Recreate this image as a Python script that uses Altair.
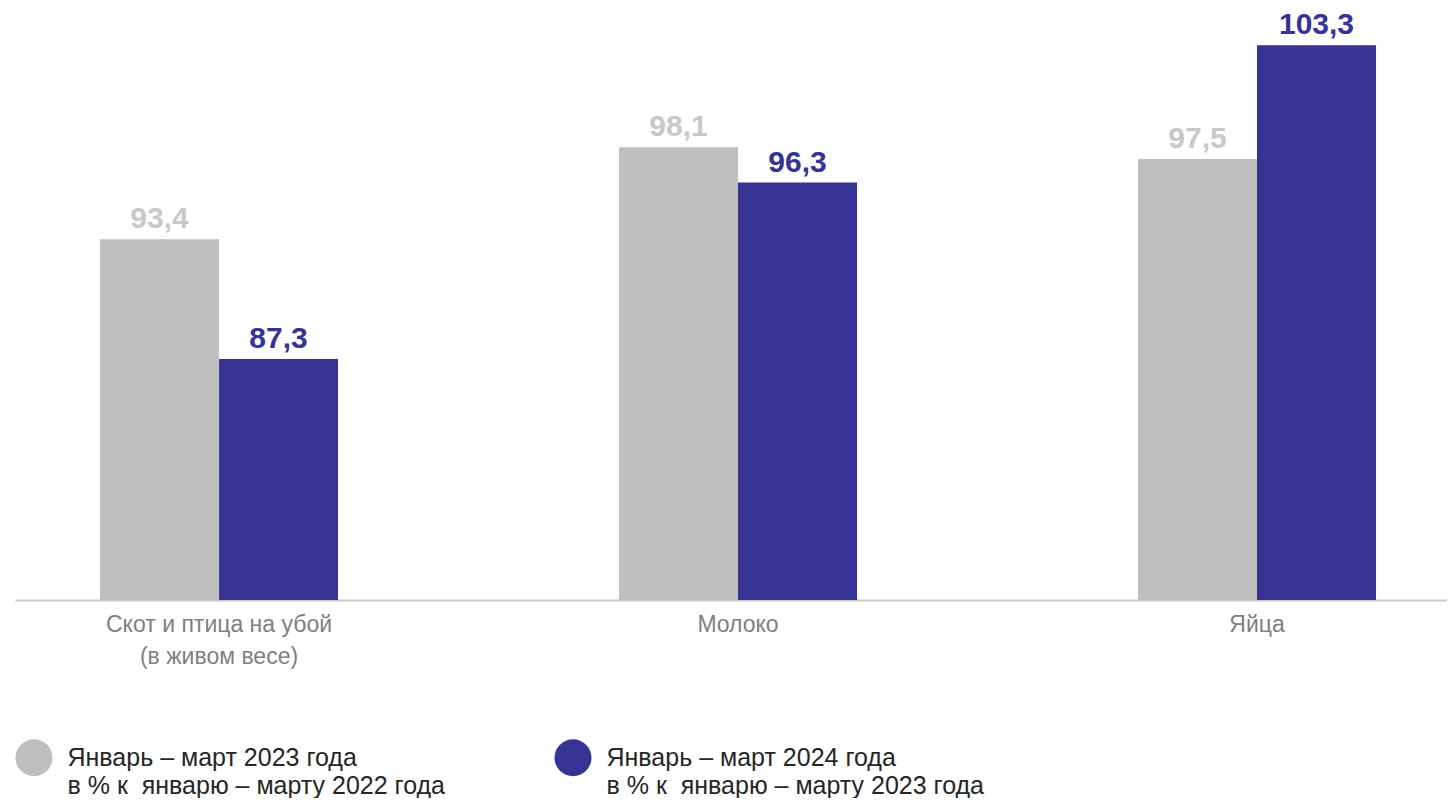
import altair as alt
import pandas as pd

categories = ["Скот и птица на убой\n (в живом весе)", "Молоко", "Яйца"]
series_names = [
    "Январь – март 2023 года\nв % к\u00a0 январю – марту 2022 года",
    "Январь – март 2024 года\nв % к\u00a0 январю – марту 2023 года",
]
values_2023 = [93.4, 98.1, 97.5]
values_2024 = [87.3, 96.3, 103.3]

bar_colors = ["#BFBFBF", "#363394"]
text_colors = ["#C8C8C8", "#363394"]

rows = []
for c, v1, v2 in zip(categories, values_2023, values_2024):
    rows.append({"cat": c, "series": series_names[0], "value": v1})
    rows.append({"cat": c, "series": series_names[1], "value": v2})
df = pd.DataFrame(rows)

FONT = "Liberation Sans"

x_enc = alt.X(
    "cat:N",
    sort=categories,
    scale=alt.Scale(paddingInner=0.5414, paddingOuter=0.1503, align=0.545),
    axis=alt.Axis(
        title=None,
        labelAngle=0,
        ticks=False,
        domainColor="#C8C8C8",
        domainWidth=2,
        labelColor="#808080",
        labelFont=FONT,
        labelFontSize=23,
        labelBaseline="top",
        labelPadding=13,
        labelLineHeight=32,
        labelLimit=500,
        labelExpr="split(datum.label, '\\n')",
        grid=False,
    ),
)
xoff = alt.XOffset("series:N", sort=series_names, scale=alt.Scale(paddingInner=0, paddingOuter=0))
y_enc = alt.Y(
    "value:Q",
    scale=alt.Scale(domain=[75, 105], zero=False, clamp=True, nice=False),
    axis=None,
)

bars = alt.Chart(df).mark_bar().encode(
    x=x_enc,
    xOffset=xoff,
    y=y_enc,
    color=alt.Color(
        "series:N",
        sort=series_names,
        scale=alt.Scale(domain=series_names, range=bar_colors),
        legend=alt.Legend(
            title=None,
            orient="none",
            legendX=0.5,
            legendY=727,
            direction="horizontal",
            symbolType="circle",
            symbolSize=1369,
            symbolStrokeWidth=0,
            labelFont=FONT,
            labelFontSize=25,
            labelColor="#262626",
            labelOffset=15,
            labelLimit=600,
            columnPadding=109,
            padding=0,
            labelExpr="split(datum.label, '\\n')",
        ),
    ),
)

texts = alt.Chart(df).transform_calculate(
    label="replace(format(datum.value, '.1f'), '.', ',')"
).mark_text(
    font=FONT, fontSize=30, fontWeight="bold", baseline="alphabetic", dy=-11
).encode(
    x=alt.X("cat:N", sort=categories),
    xOffset=xoff,
    y=y_enc,
    text="label:N",
    color=alt.Color(
        "series:N",
        sort=series_names,
        scale=alt.Scale(domain=series_names, range=text_colors),
        legend=None,
    ),
)

chart = (
    alt.layer(bars, texts)
    .resolve_scale(color="independent")
    .properties(
        width=1432,
        height=588,
        padding={"left": 7, "top": 4, "right": 0, "bottom": 198},
        autosize=alt.AutoSizeParams(type="none"),
    )
    .configure(style={"guide-label": {"lineHeight": 28}})
    .configure_view(stroke=None)
)

chart.save("out.html", embed_options={"renderer": "svg", "actions": False})
